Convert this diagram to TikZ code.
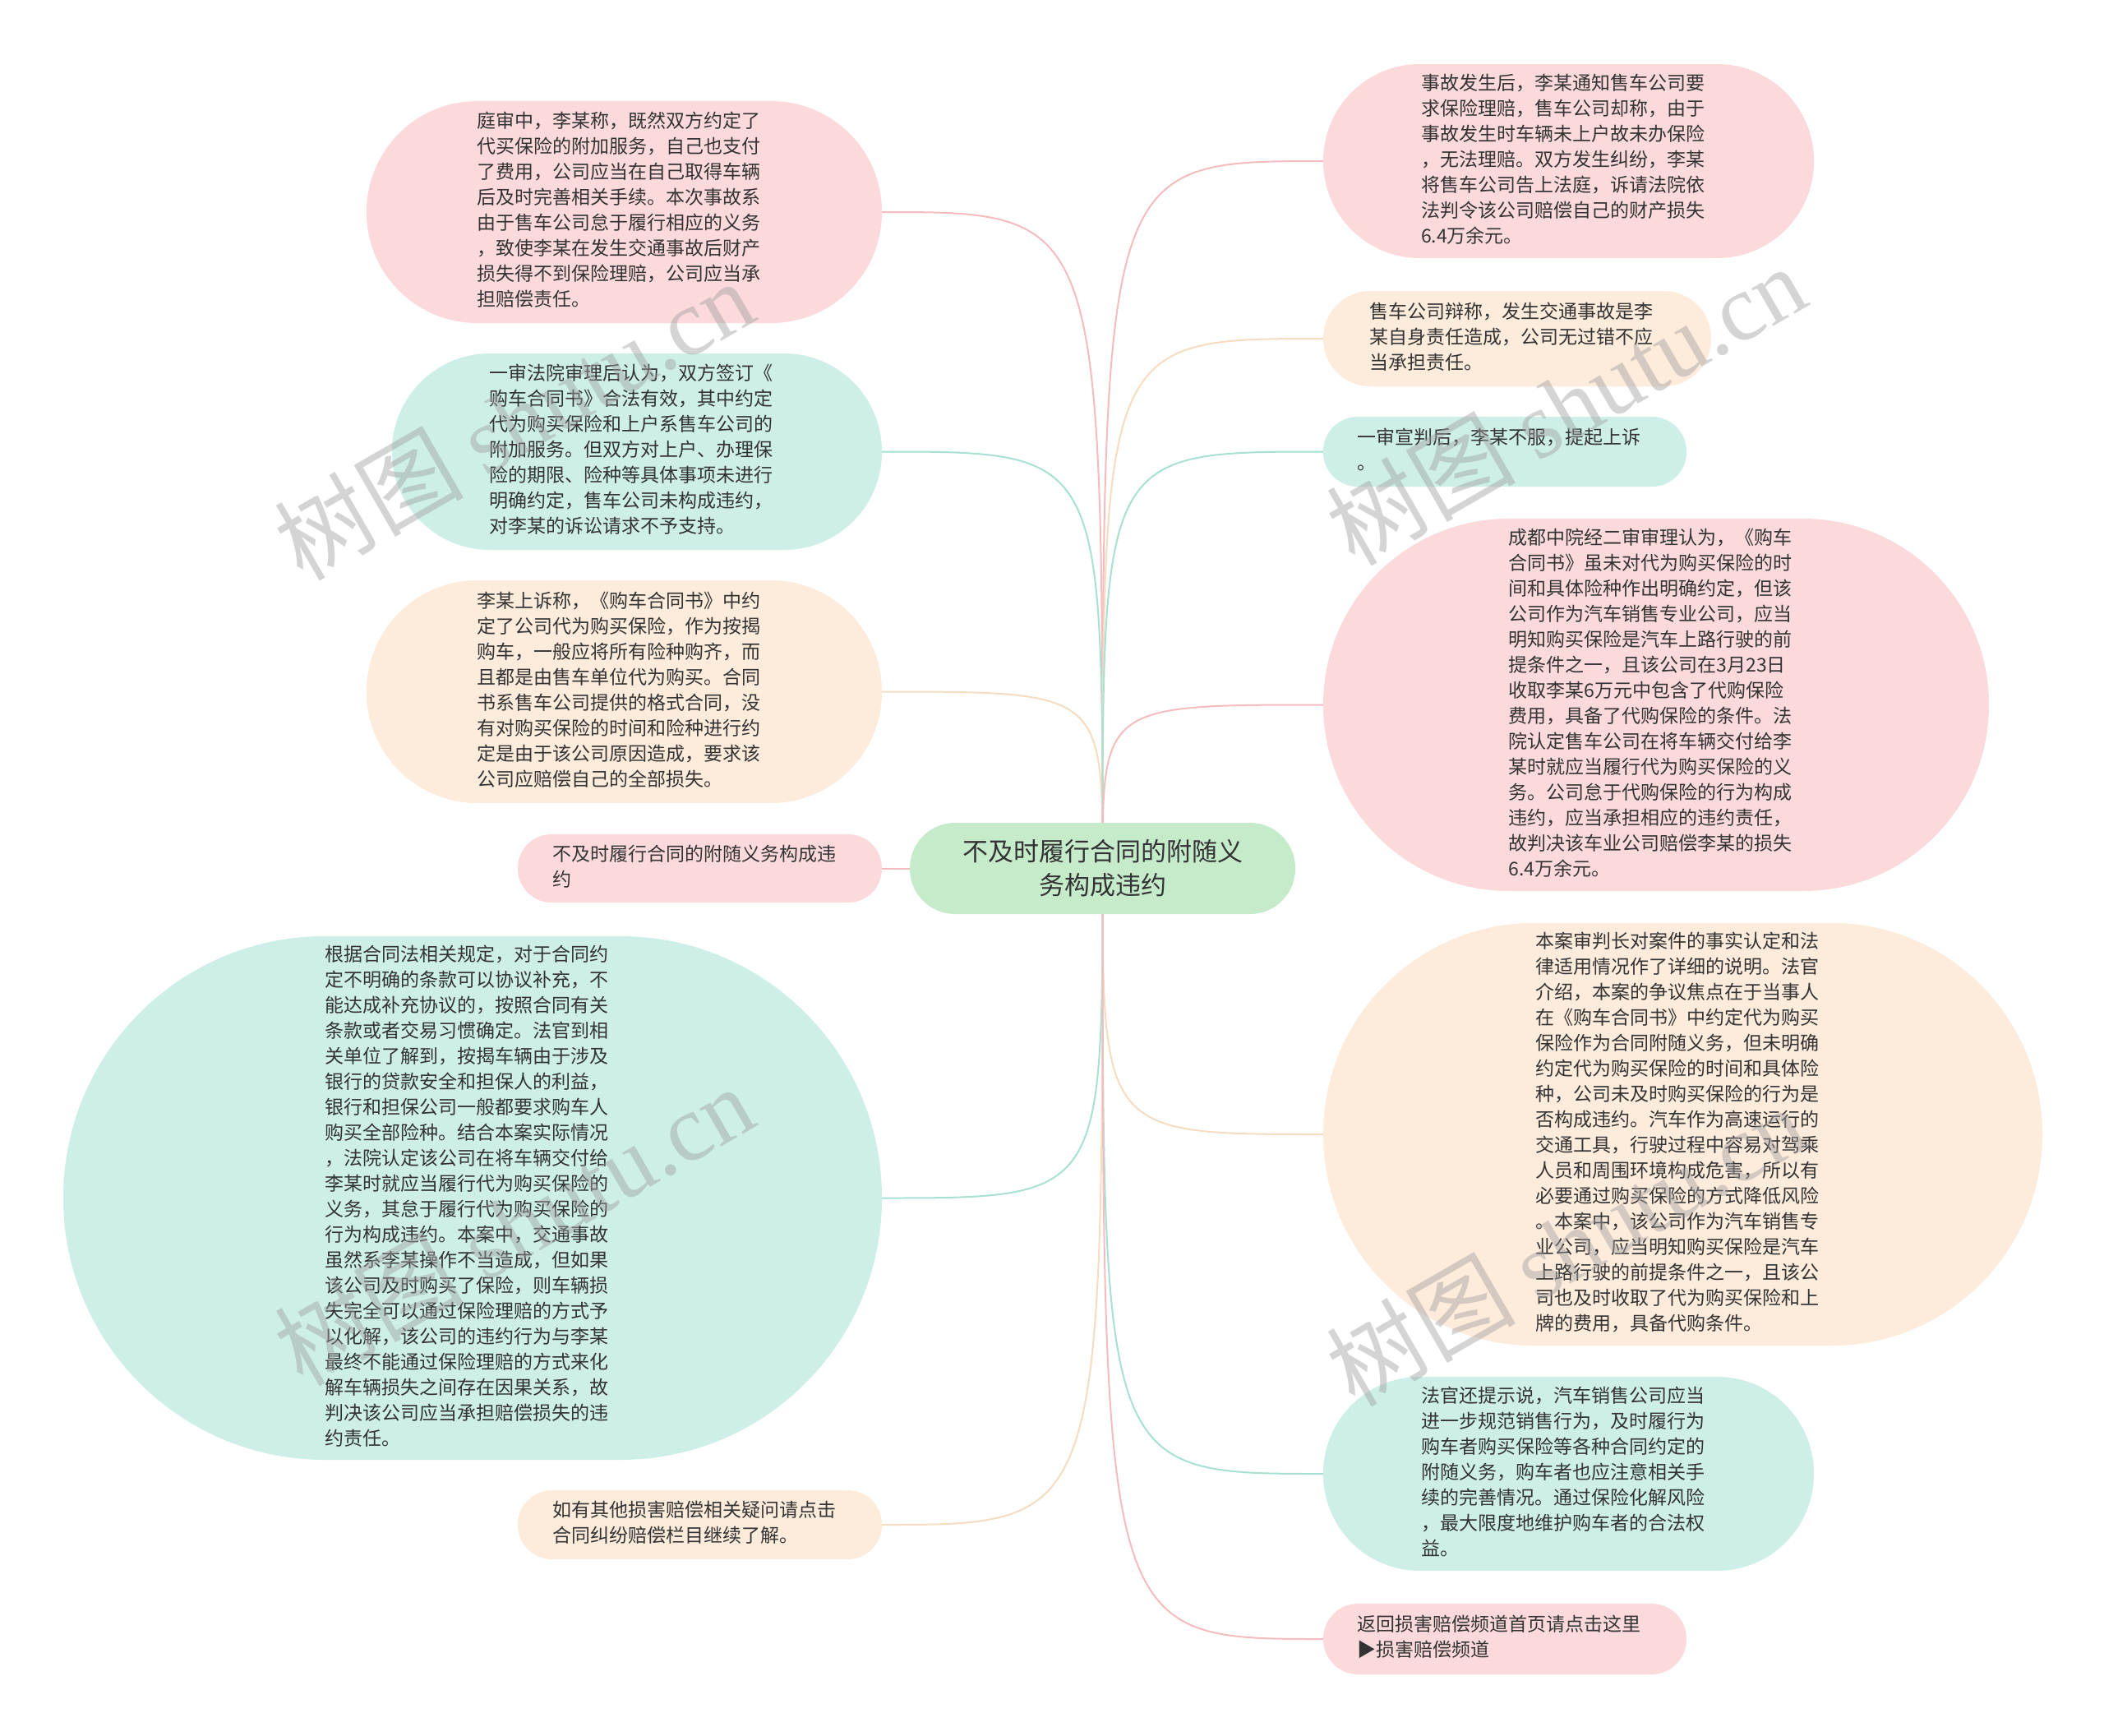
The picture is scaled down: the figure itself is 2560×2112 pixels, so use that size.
\documentclass[tikz,border=0pt]{standalone}
\usepackage{fontspec}
\setmainfont{Noto Sans CJK SC}
\newfontfamily\wmlatin{Liberation Serif}
\usetikzlibrary{backgrounds}
\definecolor{pinkfill}{HTML}{FCDADB}
\definecolor{tealfill}{HTML}{CDEFE8}
\definecolor{peachfill}{HTML}{FDEBDB}
\definecolor{greenfill}{HTML}{C6EBCA}
\definecolor{pinkline}{HTML}{F4BCBF}
\definecolor{tealline}{HTML}{A9E0D4}
\definecolor{peachline}{HTML}{F6DCC0}
\definecolor{txt}{HTML}{333333}
\definecolor{wmgray}{HTML}{A0A0A0}
\newcommand\pilltext[1]{\begin{tabular}{@{}l@{}}#1\end{tabular}\rule{14pt}{0pt}}
\tikzset{
  leaf/.style={shape=rectangle, text=txt, inner sep=0pt,
    font=\fontsize{23}{31}\selectfont},
  root/.style={shape=rectangle, align=center, text=txt, inner sep=0pt,
    font=\fontsize{31}{41}\selectfont, fill=greenfill},
  conn/.style={line width=2pt},
  wmark/.style={rotate=30, text=wmgray, opacity=0.45, inner sep=0pt,
    font=\fontsize{115}{115}\selectfont}
}
\begin{document}
\begin{tikzpicture}[x=1pt,y=-1pt]
\useasboundingbox (0,0) rectangle (2560,2112);

% centre
\node[root, minimum width=469pt, minimum height=111pt, rounded corners=55pt] (C) at (1341.5,1056.5)
 {不及时履行合同的附随义\\务构成违约};

% left side
\node[leaf, fill=pinkfill, minimum width=627pt, minimum height=270pt, rounded corners=134.5pt] (L1) at (759.5,258)
 {\pilltext{庭审中，李某称，既然双方约定了\\代买保险的附加服务，自己也支付\\了费用，公司应当在自己取得车辆\\后及时完善相关手续。本次事故系\\由于售车公司怠于履行相应的义务\\，致使李某在发生交通事故后财产\\损失得不到保险理赔，公司应当承\\担赔偿责任。}};
\node[leaf, fill=tealfill, minimum width=596pt, minimum height=239pt, rounded corners=119pt] (L2) at (775,549.5)
 {\pilltext{一审法院审理后认为，双方签订《\\购车合同书》合法有效，其中约定\\代为购买保险和上户系售车公司的\\附加服务。但双方对上户、办理保\\险的期限、险种等具体事项未进行\\明确约定，售车公司未构成违约，\\对李某的诉讼请求不予支持。}};
\node[leaf, fill=peachfill, minimum width=627pt, minimum height=271pt, rounded corners=135pt] (L3) at (759.5,841.5)
 {\pilltext{李某上诉称，《购车合同书》中约\\定了公司代为购买保险，作为按揭\\购车，一般应将所有险种购齐，而\\且都是由售车单位代为购买。合同\\书系售车公司提供的格式合同，没\\有对购买保险的时间和险种进行约\\定是由于该公司原因造成，要求该\\公司应赔偿自己的全部损失。}};
\node[leaf, fill=pinkfill, minimum width=443pt, minimum height=83pt, rounded corners=41pt] (L4) at (851.5,1056.5)
 {\pilltext{不及时履行合同的附随义务构成违\\约}};
\node[leaf, fill=tealfill, minimum width=996pt, minimum height=637pt, rounded corners=318pt] (L5) at (575,1457.5)
 {\pilltext{根据合同法相关规定，对于合同约\\定不明确的条款可以协议补充，不\\能达成补充协议的，按照合同有关\\条款或者交易习惯确定。法官到相\\关单位了解到，按揭车辆由于涉及\\银行的贷款安全和担保人的利益，\\银行和担保公司一般都要求购车人\\购买全部险种。结合本案实际情况\\，法院认定该公司在将车辆交付给\\李某时就应当履行代为购买保险的\\义务，其怠于履行代为购买保险的\\行为构成违约。本案中，交通事故\\虽然系李某操作不当造成，但如果\\该公司及时购买了保险，则车辆损\\失完全可以通过保险理赔的方式予\\以化解，该公司的违约行为与李某\\最终不能通过保险理赔的方式来化\\解车辆损失之间存在因果关系，故\\判决该公司应当承担赔偿损失的违\\约责任。}};
\node[leaf, fill=peachfill, minimum width=443pt, minimum height=84pt, rounded corners=41.5pt] (L6) at (851.5,1855)
 {\pilltext{如有其他损害赔偿相关疑问请点击\\合同纠纷赔偿栏目继续了解。}};

% right side
\node[leaf, fill=pinkfill, minimum width=597pt, minimum height=236pt, rounded corners=117.5pt] (R1) at (1908.5,196)
 {\pilltext{事故发生后，李某通知售车公司要\\求保险理赔，售车公司却称，由于\\事故发生时车辆未上户故未办保险\\，无法理赔。双方发生纠纷，李某\\将售车公司告上法庭，诉请法院依\\法判令该公司赔偿自己的财产损失\\6.4万余元。}};
\node[leaf, fill=peachfill, minimum width=472pt, minimum height=116pt, rounded corners=57.5pt] (R2) at (1846,412)
 {\pilltext{售车公司辩称，发生交通事故是李\\某自身责任造成，公司无过错不应\\当承担责任。}};
\node[leaf, fill=tealfill, minimum width=442pt, minimum height=85pt, rounded corners=42pt] (R3) at (1831,549.5)
 {\pilltext{一审宣判后，李某不服，提起上诉\\。}};
\node[leaf, fill=pinkfill, minimum width=810pt, minimum height=453pt, rounded corners=226pt] (R4) at (2015,857.5)
 {\pilltext{成都中院经二审审理认为，《购车\\合同书》虽未对代为购买保险的时\\间和具体险种作出明确约定，但该\\公司作为汽车销售专业公司，应当\\明知购买保险是汽车上路行驶的前\\提条件之一，且该公司在3月23日\\收取李某6万元中包含了代购保险\\费用，具备了代购保险的条件。法\\院认定售车公司在将车辆交付给李\\某时就应当履行代为购买保险的义\\务。公司怠于代购保险的行为构成\\违约，应当承担相应的违约责任，\\故判决该车业公司赔偿李某的损失\\6.4万余元。}};
\node[leaf, fill=peachfill, minimum width=875pt, minimum height=514pt, rounded corners=256.5pt] (R5) at (2047.5,1380)
 {\pilltext{本案审判长对案件的事实认定和法\\律适用情况作了详细的说明。法官\\介绍，本案的争议焦点在于当事人\\在《购车合同书》中约定代为购买\\保险作为合同附随义务，但未明确\\约定代为购买保险的时间和具体险\\种，公司未及时购买保险的行为是\\否构成违约。汽车作为高速运行的\\交通工具，行驶过程中容易对驾乘\\人员和周围环境构成危害，所以有\\必要通过购买保险的方式降低风险\\。本案中，该公司作为汽车销售专\\业公司，应当明知购买保险是汽车\\上路行驶的前提条件之一，且该公\\司也及时收取了代为购买保险和上\\牌的费用，具备代购条件。}};
\node[leaf, fill=tealfill, minimum width=597pt, minimum height=236pt, rounded corners=117.5pt] (R6) at (1908.5,1793)
 {\pilltext{法官还提示说，汽车销售公司应当\\进一步规范销售行为，及时履行为\\购车者购买保险等各种合同约定的\\附随义务，购车者也应注意相关手\\续的完善情况。通过保险化解风险\\，最大限度地维护购车者的合法权\\益。}};
\node[leaf, fill=pinkfill, minimum width=442pt, minimum height=86pt, rounded corners=42.5pt] (R7) at (1831,1994)
 {\pilltext{返回损害赔偿频道首页请点击这里\\▶损害赔偿频道}};

% connectors
\begin{pgfonlayer}{background}
\fill[white] (0,0) rectangle (2560,2112);
\foreach \n/\col in {L1/pinkline, L2/tealline, L3/peachline, L5/tealline, L6/peachline}
  \draw[conn, draw=\col] (C.center) .. controls (C.center |- \n.east) .. (\n.east);
\foreach \n/\col in {R1/pinkline, R2/peachline, R3/tealline, R4/pinkline, R5/peachline, R6/tealline, R7/pinkline}
  \draw[conn, draw=\col] (C.center) .. controls (C.center |- \n.west) .. (\n.west);
\draw[conn, draw=pinkline] (C.center) -- (L4.east);
\end{pgfonlayer}

% watermarks
\node[wmark] (W1) at (625,510) {树图 {\wmlatin shutu.cn}};
\node[wmark] (W2) at (1905,492) {树图 {\wmlatin shutu.cn}};
\node[wmark] (W3) at (625,1490) {树图 {\wmlatin shutu.cn}};
\node[wmark] (W4) at (1905,1515) {树图 {\wmlatin shutu.cn}};
\end{tikzpicture}
\end{document}
